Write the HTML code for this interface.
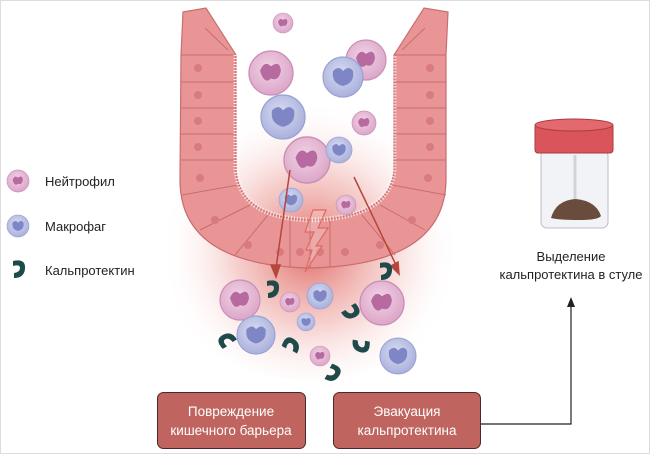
<!DOCTYPE html>
<html><head><meta charset="utf-8"><style>
body{margin:0;background:#fff}
.t{font-family:"Liberation Sans","DejaVu Sans",sans-serif;}
</style></head><body>
<svg width="650" height="454" viewBox="0 0 650 454" xmlns="http://www.w3.org/2000/svg">
<defs>
<radialGradient id="glow" cx="310" cy="250" r="150" gradientUnits="userSpaceOnUse">
<stop offset="0" stop-color="#d9473f" stop-opacity="0.8"/>
<stop offset="0.5" stop-color="#e88a84" stop-opacity="0.4"/>
<stop offset="1" stop-color="#fff" stop-opacity="0"/>
</radialGradient>
<radialGradient id="pk" cx="0.45" cy="0.4" r="0.6"><stop offset="0" stop-color="#f1d3e6"/><stop offset="1" stop-color="#dca6c8"/></radialGradient>
<radialGradient id="bl" cx="0.45" cy="0.4" r="0.6"><stop offset="0" stop-color="#d8dcf2"/><stop offset="1" stop-color="#aab1dc"/></radialGradient>
<g id="neu"><circle r="1" fill="url(#pk)" stroke="#c98fb6" stroke-width="0.06"/><path d="M-0.5,-0.1 q0.2,-0.5 0.5,-0.2 q0.4,-0.3 0.45,0.2 q-0.1,0.5 -0.45,0.35 q-0.3,0.3 -0.5,-0.35z" fill="#b66a9f"/></g>
<g id="mac"><circle r="1" fill="url(#bl)" stroke="#9aa2d3" stroke-width="0.06"/><path d="M-0.5,-0.3 q0.3,-0.3 0.5,0 q0.3,-0.3 0.5,0 q0.1,0.6 -0.5,0.75 q-0.6,-0.15 -0.5,-0.75z" fill="#7f86c6"/></g>
<path id="cal" d="M-5,-9 q13,-3 12,8 q-1,9 -11,9 l0,-5 q6,-1 6,-5 q0,-4 -7,-2z" fill="#1f4a4a"/>
</defs>
<rect x="0.5" y="0.5" width="649" height="453" fill="#fff" stroke="#ddd"/>
<ellipse cx="310" cy="240" rx="160" ry="140" fill="url(#glow)"/>
<path d="M183,12 L206,8 L236,55 L236,170 Q240,218 310,220 Q390,218 394,170 L394,55 L424,8 L448,12 L446,55 L446,180 Q445,265 310,268 Q180,265 180,180 L181,55 Z" fill="#e99596" stroke="#c86d70" stroke-width="1.2"/>
<g stroke="#c86d70" stroke-width="1" fill="none">
<path d="M236,55 L181,55 M236,82 L181,82 M236,108 L181,108 M236,134 L181,134 M236,160 L181,160 M238,185 L182,195 M250,205 L200,230 M268,215 L235,255"/>
<path d="M394,55 L446,55 M394,82 L446,82 M394,108 L446,108 M394,134 L446,134 M394,160 L446,160 M392,185 L446,195 M380,205 L425,230 M362,215 L395,255"/>
<path d="M290,219 L290,267 M310,220 L310,268 M330,219 L330,267 M205,28 L228,50 M425,28 L402,50"/>
</g>
<g fill="#d87b80">
<circle cx="198" cy="68" r="4"/><circle cx="198" cy="95" r="4"/><circle cx="198" cy="121" r="4"/><circle cx="198" cy="147" r="4"/><circle cx="200" cy="178" r="4"/><circle cx="215" cy="220" r="4"/><circle cx="248" cy="245" r="4"/><circle cx="280" cy="252" r="4"/><circle cx="300" cy="252" r="4"/><circle cx="320" cy="252" r="4"/><circle cx="345" cy="252" r="4"/><circle cx="380" cy="245" r="4"/><circle cx="412" cy="220" r="4"/><circle cx="428" cy="178" r="4"/><circle cx="430" cy="147" r="4"/><circle cx="430" cy="121" r="4"/><circle cx="430" cy="95" r="4"/><circle cx="430" cy="68" r="4"/>
</g>
<path d="M236,55 L236,170 Q240,218 310,220 Q390,218 394,170 L394,55" fill="none" stroke="#fff" stroke-width="5" stroke-dasharray="1,2" opacity="0.8"/>
<use href="#neu" transform="translate(283,23) scale(10)"/>
<use href="#neu" transform="translate(271,73) scale(22)"/>
<use href="#neu" transform="translate(366,60) scale(20)"/>
<use href="#mac" transform="translate(343,77) scale(20)"/>
<use href="#mac" transform="translate(283,117) scale(22)"/>
<use href="#neu" transform="translate(364,123) scale(12)"/>
<use href="#neu" transform="translate(307,160) scale(23)"/>
<use href="#mac" transform="translate(339,150) scale(13)"/>
<use href="#mac" transform="translate(291,200) scale(12)"/>
<use href="#neu" transform="translate(346,205) scale(10)"/>
<g stroke="#b5463c" stroke-width="1.5" fill="#b5463c">
<line x1="290" y1="170" x2="276" y2="268"/><path d="M271,265 L276,277 L280,265z"/>
<line x1="354" y1="177" x2="396" y2="265"/><path d="M391,266 L399,274 L398,262z"/>
</g>
<path d="M313,210 L326,210 L318,228 L328,228 L316,246 L322,246 L305,272 L312,250 L306,250 L314,232 L305,232z" fill="#fff" fill-opacity="0.2" stroke="#e06a63" stroke-width="1.2"/>
<use href="#neu" transform="translate(240,300) scale(20)"/>
<use href="#mac" transform="translate(256,335) scale(19)"/>
<use href="#neu" transform="translate(290,302) scale(10)"/>
<use href="#mac" transform="translate(320,296) scale(13)"/>
<use href="#mac" transform="translate(306,322) scale(9)"/>
<use href="#neu" transform="translate(382,303) scale(22)"/>
<use href="#mac" transform="translate(398,356) scale(18)"/>
<use href="#neu" transform="translate(320,356) scale(10)"/>
<use href="#cal" transform="translate(272,290)"/>
<use href="#cal" transform="translate(385,272)"/>
<use href="#cal" transform="translate(350,312) rotate(60)"/>
<use href="#cal" transform="translate(228,340) rotate(-120)"/>
<use href="#cal" transform="translate(292,346) rotate(-60)"/>
<use href="#cal" transform="translate(360,345) rotate(100)"/>
<use href="#cal" transform="translate(332,374) rotate(30)"/>
<use href="#neu" transform="translate(18,181) scale(11)"/>
<use href="#mac" transform="translate(18,226) scale(11)"/>
<use href="#cal" transform="translate(18,270)"/>
<g class="t" font-size="13" fill="#222">
<text x="45" y="186">Нейтрофил</text>
<text x="45" y="231">Макрофаг</text>
<text x="45" y="275">Кальпротектин</text>
</g>
<rect x="541" y="150" width="67" height="78" rx="6" fill="#f2f3f6" stroke="#b9bec6"/>
<line x1="575" y1="155" x2="575" y2="200" stroke="#d0d4da" stroke-width="3"/>
<path d="M551,218 q5,-18 25,-19 q20,2 25,17 q-3,4 -22,4 q-20,0 -28,-2z" fill="#6a4c3c"/>
<rect x="535" y="124" width="78" height="29" rx="3" fill="#d9555b" stroke="#a83c42"/>
<ellipse cx="574" cy="125" rx="39" ry="6" fill="#e4696e" stroke="#a83c42"/>
<g class="t" font-size="13" fill="#222" text-anchor="middle">
<text x="571" y="261">Выделение</text>
<text x="571" y="279">кальпротектина в стуле</text>
</g>
<path d="M480,424 L571,424 L571,304" fill="none" stroke="#222" stroke-width="1.2"/>
<path d="M567,307 L571,297 L575,307z" fill="#222"/>
<rect x="157.5" y="392.5" width="148" height="56" rx="6" fill="#bf645f" stroke="#4a2a28"/>
<rect x="333.5" y="392.5" width="147" height="56" rx="6" fill="#bf645f" stroke="#4a2a28"/>
<g class="t" font-size="13.5" fill="#fff" text-anchor="middle">
<text x="231" y="416">Повреждение</text>
<text x="231" y="435">кишечного барьера</text>
<text x="407" y="416">Эвакуация</text>
<text x="407" y="435">кальпротектина</text>
</g>
</svg>
</body></html>
